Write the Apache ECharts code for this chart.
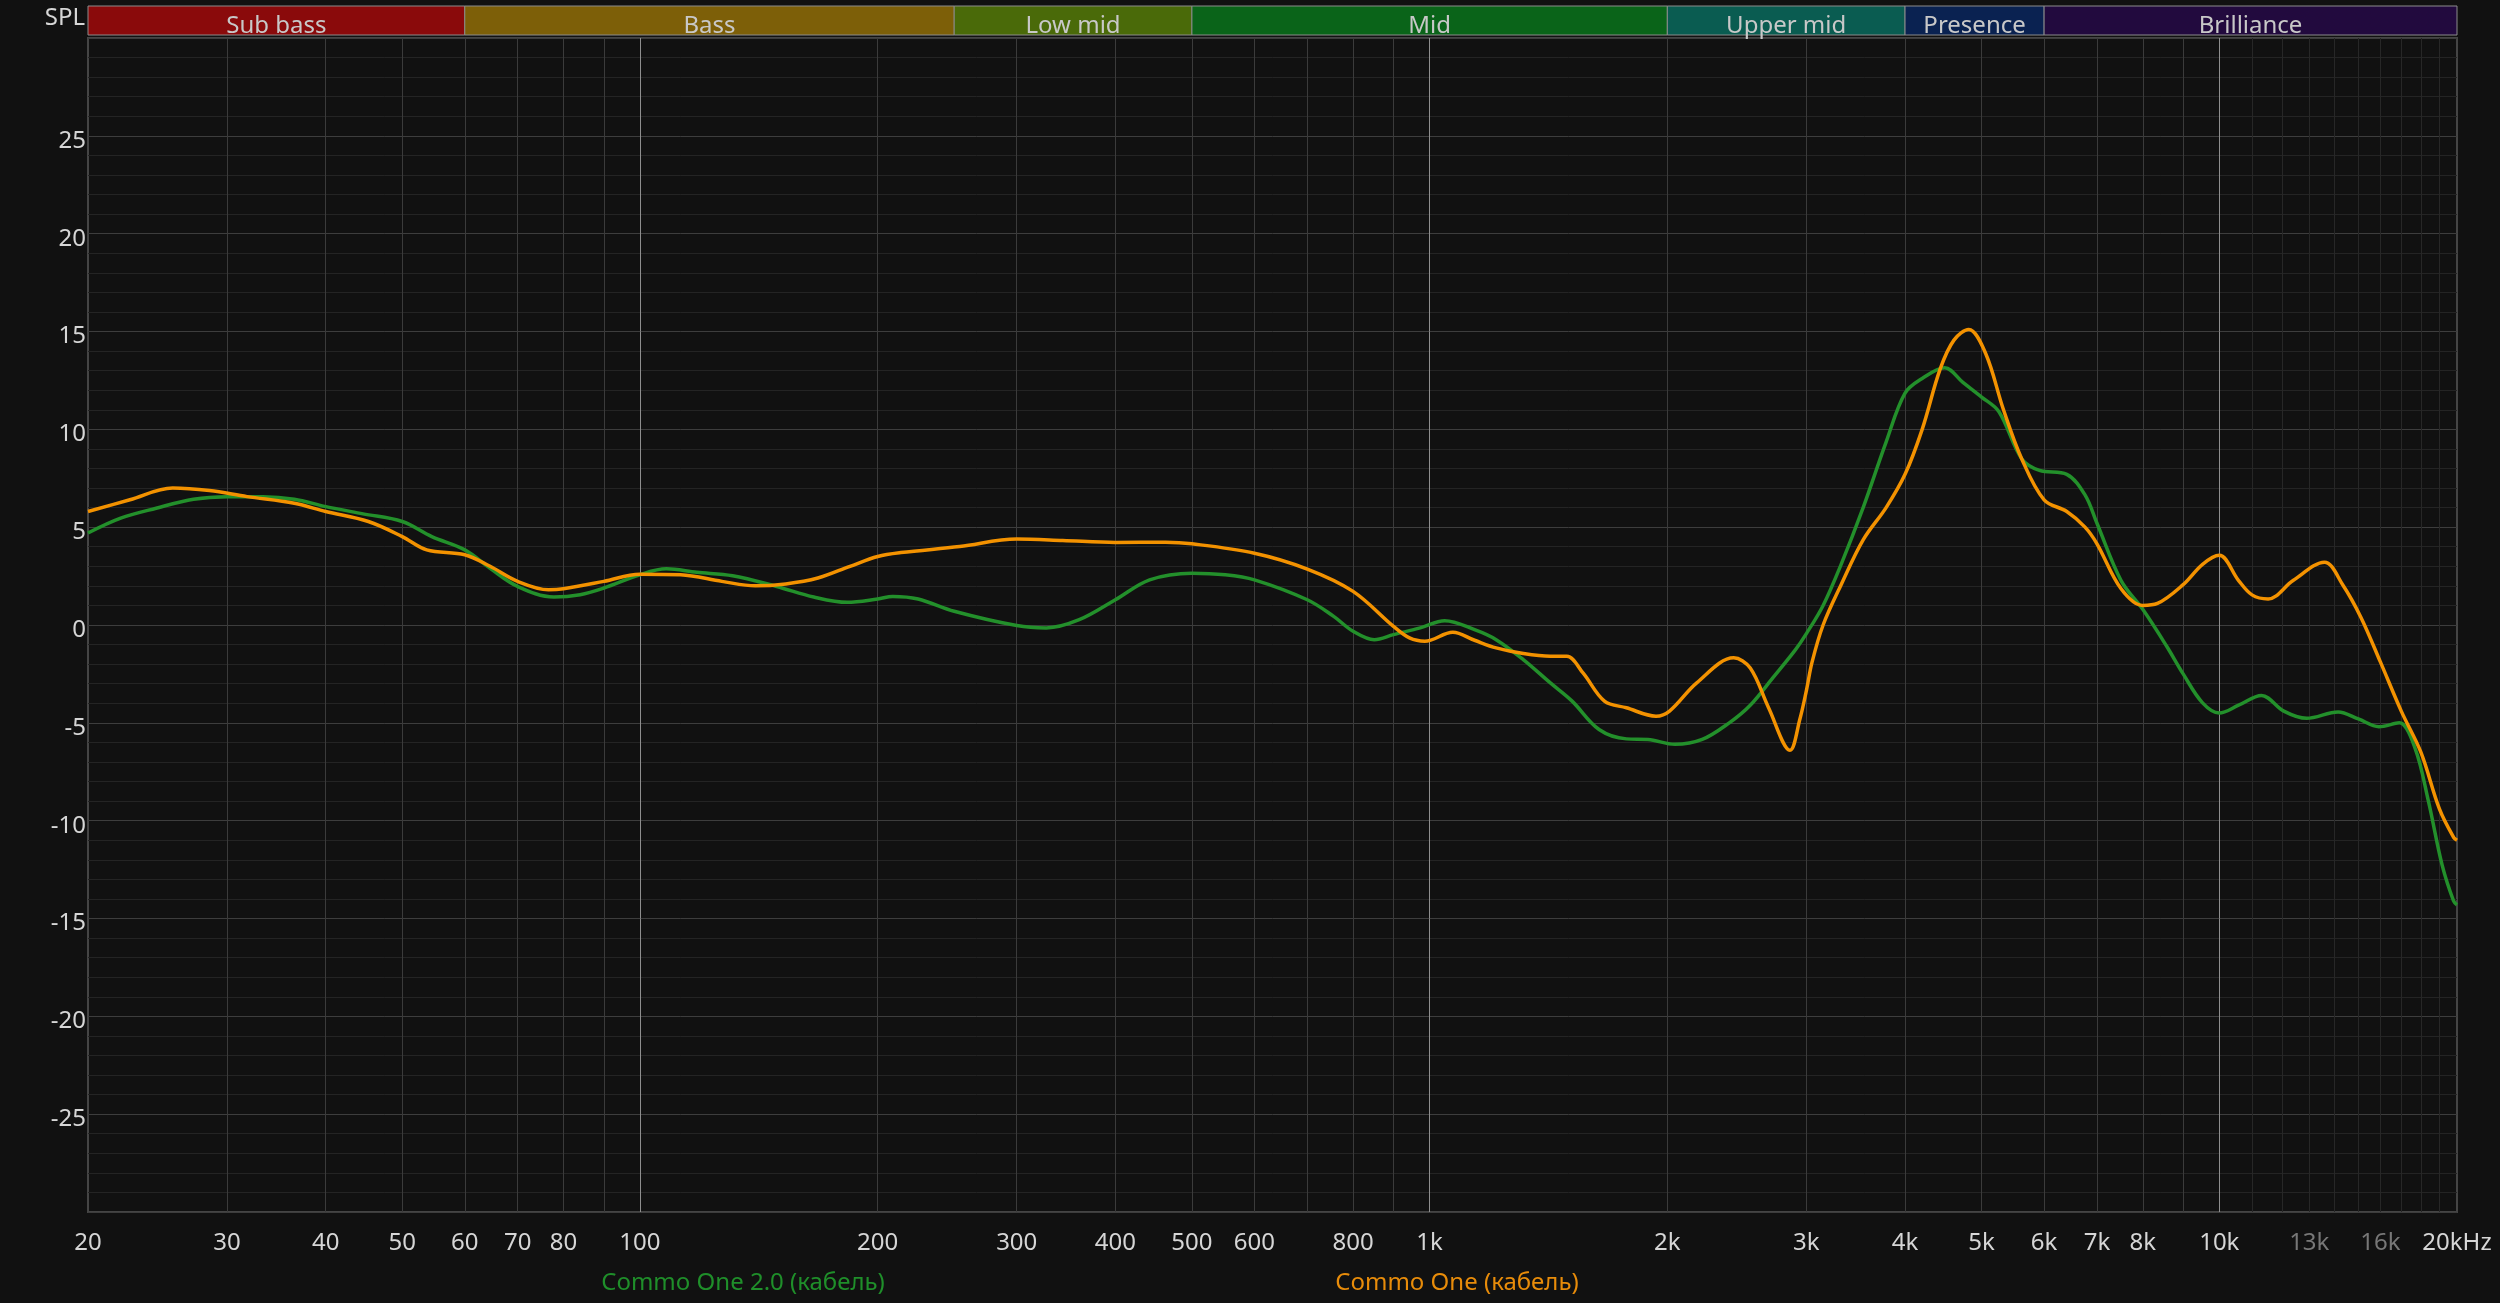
<!DOCTYPE html>
<html><head><meta charset="utf-8">
<script src="https://cdn.jsdelivr.net/npm/echarts@6/dist/echarts.min.js"></script>
<style>html,body{margin:0;padding:0;background:#111111;}#c{width:2500px;height:1303px;}</style>
</head><body><div id="c"></div>
<script>
// ---- data ----
const seriesNames = ['Commo One 2.0 (кабель)', 'Commo One (кабель)'];

const greenFreq = [20,22,24.4,27.2,30,33.3,36.5,40,44.6,50,54.5,60,64.6,70,77.8,84,90,100,108,118,131,149,166,183,200,209,225,250,300,327,360,400,442,500,551,600,700,756,800,851,900,973,1045,1140,1214,1314,1422,1515,1639,1775,1890,2045,2214,2396,2547,2720,2905,3000,3150,3320,3540,3785,4000,4205,4490,4735,5000,5260,5620,5920,6410,6760,7000,7510,8000,8570,9000,9524,10000,10580,11310,12070,12900,14140,15000,15930,16900,17700,18400,19160,19800,20000];
const greenSpl = [4.7,5.46,5.97,6.43,6.56,6.56,6.43,6.05,5.68,5.29,4.52,3.84,2.9,1.97,1.43,1.55,1.89,2.57,2.87,2.69,2.52,1.97,1.43,1.16,1.33,1.46,1.33,0.7,-0.03,-0.15,0.27,1.29,2.31,2.65,2.57,2.31,1.29,0.44,-0.32,-0.75,-0.49,-0.15,0.22,-0.24,-0.75,-1.77,-2.96,-3.89,-5.34,-5.82,-5.85,-6.1,-5.85,-5.0,-4.1,-2.7,-1.27,-0.44,1.0,3.1,6.0,9.35,11.85,12.6,13.15,12.4,11.65,10.9,8.5,7.9,7.7,6.65,5.2,2.27,0.8,-1.06,-2.5,-3.98,-4.5,-4.1,-3.6,-4.4,-4.77,-4.44,-4.8,-5.2,-5.0,-6.3,-9.0,-12.3,-14.1,-14.3];

const orangeFreq = [20,22.6,25.6,28.5,31.8,36.5,40,45.3,50,53.7,60,64.6,70,76.6,80,90,100,112.6,127,140,153,168,184.5,200,214,254,300,343,400,463,500,600,700,800,900,943,986,1070,1140,1214,1314,1422,1492,1564,1665,1775,1935,2013,2179,2427,2547,2685,2860,2944,3000,3050,3150,3320,3540,3785,4000,4205,4433,4613,4816,5057,5330,5620,6000,6410,6760,7000,7510,8000,8350,9000,9524,10000,10580,11000,11530,12400,13590,14330,15110,16000,17000,18000,19000,19800,20000];
const orangeSpl = [5.8,6.4,7.0,6.87,6.56,6.22,5.8,5.29,4.52,3.84,3.59,3.0,2.23,1.8,1.85,2.23,2.6,2.57,2.23,2.0,2.1,2.4,3.0,3.5,3.7,4.01,4.39,4.32,4.22,4.23,4.15,3.67,2.86,1.72,-0.07,-0.66,-0.83,-0.37,-0.78,-1.17,-1.46,-1.6,-1.6,-2.45,-3.89,-4.23,-4.66,-4.4,-2.96,-1.68,-2.2,-4.2,-6.4,-4.8,-3.35,-1.9,0.0,2.06,4.35,6.0,7.7,10.0,13.1,14.56,15.1,13.9,11.0,8.5,6.4,5.8,5.0,4.15,1.85,1.0,1.1,2.06,3.1,3.56,2.27,1.54,1.33,2.27,3.21,2.06,0.4,-1.9,-4.4,-6.5,-9.4,-10.85,-11.0];

const tickFreqs = [20,30,40,50,60,70,80,100,200,300,400,500,600,800,1000,2000,3000,4000,5000,6000,7000,8000,10000,13000,16000,20000];
const tickLabels = ['20','30','40','50','60','70','80','100','200','300','400','500','600','800','1k','2k','3k','4k','5k','6k','7k','8k','10k','13k','16k','20kHz'];
const dimTicks = [13000,16000];

const gridDim = [30,40,50,60,70,80,90,200,300,400,500,600,700,800,900,2000,3000,4000,5000,6000,7000,8000,9000];
const gridBright = [100,1000,10000];
const gridFaint = [11000,12000,13000,14000,15000,16000,17000,18000,19000];

const bandNames = ['Sub bass','Bass','Low mid','Mid','Upper mid','Presence','Brilliance'];
const bandStart = [20,60,250,500,2000,4000,6000];
const bandEnd = [60,250,500,2000,4000,6000,20000];
const bandColors = ['#8a0a0b','#7d5f08','#4a6a09','#0a6419','#0a5c51','#0a2251','#220a3e'];

// ---- chart ----
const FONT = "'Noto Sans', 'Open Sans', sans-serif";
const labelMap = {};
tickFreqs.forEach((f, i) => { labelMap[f] = tickLabels[i]; });

const chart = echarts.init(document.getElementById('c'));
const logAxisBase = {type: 'log', logBase: 10, min: 20, max: 20000};

chart.setOption({
  backgroundColor: '#111111',
  animation: false,
  textStyle: {fontFamily: FONT},
  title: [
    {text: seriesNames[0], left: 743, top: 1271, padding: 0, textAlign: 'center',
     textStyle: {color: '#1f8f2a', fontSize: 24, fontWeight: 'normal', fontFamily: FONT}},
    {text: seriesNames[1], left: 1457, top: 1271, padding: 0, textAlign: 'center',
     textStyle: {color: '#e88c0a', fontSize: 24, fontWeight: 'normal', fontFamily: FONT}}
  ],
  grid: [
    {left: 88, right: 43, top: 38, bottom: 91, show: true, borderColor: '#454545', borderWidth: 2},
    {left: 88, right: 43, top: 6, height: 29, show: false}
  ],
  xAxis: [
    Object.assign({}, logAxisBase, {
      gridIndex: 0, position: 'bottom',
      axisLine: {show: false},
      axisTick: {show: false, customValues: gridDim},
      splitLine: {show: true, lineStyle: {color: '#3b3b3b', width: 1}},
      axisLabel: {
        customValues: tickFreqs, margin: 19, fontSize: 24, fontFamily: FONT, color: '#d6d6d6',
        formatter: function (v) {
          const key = Math.round(v);
          const t = labelMap[key] !== undefined ? labelMap[key] : '';
          return dimTicks.indexOf(key) >= 0 ? '{g|' + t + '}' : t;
        },
        rich: {g: {color: '#777777', fontSize: 24, fontFamily: FONT}}
      }
    }),
    Object.assign({}, logAxisBase, {
      gridIndex: 0, position: 'top',
      axisLine: {show: false},
      axisTick: {show: false, customValues: gridBright},
      axisLabel: {show: false},
      splitLine: {show: true, lineStyle: {color: '#8e8e8e', width: 1}}
    }),
    Object.assign({}, logAxisBase, {
      gridIndex: 0, position: 'bottom',
      axisLine: {show: false},
      axisTick: {show: false, customValues: gridFaint},
      axisLabel: {show: false},
      splitLine: {show: true, lineStyle: {color: '#272727', width: 1}}
    }),
    Object.assign({}, logAxisBase, {gridIndex: 1, show: false})
  ],
  yAxis: [
    {
      type: 'value', gridIndex: 0, min: -30, max: 30, interval: 5,
      name: 'SPL', nameLocation: 'end', nameGap: 20,
      nameTextStyle: {color: '#d6d6d6', fontSize: 24, fontFamily: FONT, align: 'right', verticalAlign: 'middle', padding: [0, 3, 0, 0]},
      axisLine: {show: false}, axisTick: {show: false},
      axisLabel: {color: '#d6d6d6', fontSize: 24, fontFamily: FONT, margin: 2,
        formatter: function (v) { return (v === -30 || v === 30) ? '' : '{y|' + v + '}'; },
        rich: {y: {color: '#d6d6d6', fontSize: 24, fontFamily: FONT, padding: [10, 0, 0, 0]}}},
      splitLine: {show: true, lineStyle: {color: '#3d3d3d', width: 1}},
      minorTick: {show: false, splitNumber: 5},
      minorSplitLine: {show: true, lineStyle: {color: '#242424', width: 1}}
    },
    {type: 'value', gridIndex: 1, min: 0, max: 1, show: false}
  ],
  series: [
    {
      name: seriesNames[0], type: 'line', xAxisIndex: 0, yAxisIndex: 0,
      data: greenFreq.map((f, i) => [f, greenSpl[i]]),
      smooth: 0.35, symbol: 'none', z: 3,
      lineStyle: {color: '#23902b', width: 3.5}, itemStyle: {color: '#23902b'}
    },
    {
      name: seriesNames[1], type: 'line', xAxisIndex: 0, yAxisIndex: 0,
      data: orangeFreq.map((f, i) => [f, orangeSpl[i]]),
      smooth: 0.35, symbol: 'none', z: 4,
      lineStyle: {color: '#f39200', width: 3.5}, itemStyle: {color: '#f39200'}
    },
    {
      name: 'bands', type: 'line', xAxisIndex: 3, yAxisIndex: 1, data: [],
      markArea: {
        silent: true,
        label: {show: true, position: 'inside', color: '#c8c8c8', fontSize: 24, fontFamily: FONT, offset: [0, 6]},
        itemStyle: {borderColor: '#8c8c8c', borderWidth: 1},
        data: bandNames.map((n, i) => [
          {name: n, xAxis: bandStart[i], itemStyle: {color: bandColors[i]}},
          {xAxis: bandEnd[i]}
        ])
      }
    }
  ]
});
</script>
</body></html>
